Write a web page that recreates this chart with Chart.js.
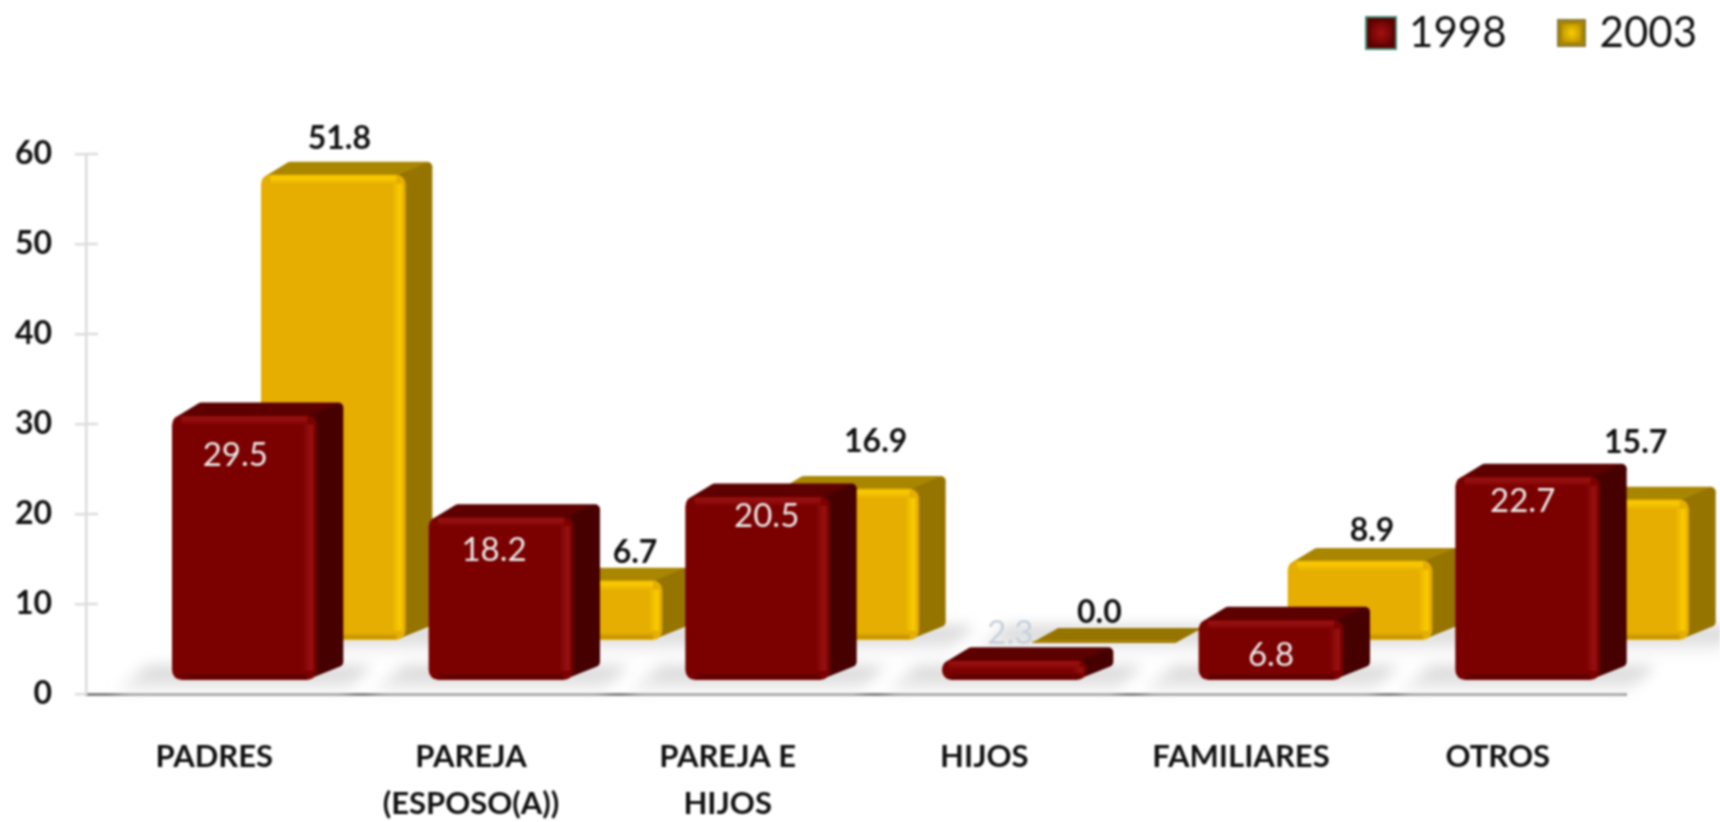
<!DOCTYPE html>
<html lang="es">
<head>
    <meta charset="UTF-8">
    <title>1998 - 2003</title>
    <style>
        html, body { margin: 0; background: white; }
        canvas { display: block; filter: blur(0.8px); }
    </style>
    <script src="https://cdn.jsdelivr.net/npm/chart.js@4"></script>
</head>
<body>
    <canvas id="chart" width="1720" height="822"></canvas>
    <script>
        const categories = ['PADRES', ['PAREJA', '(ESPOSO(A))'], ['PAREJA E', 'HIJOS'], 'HIJOS', 'FAMILIARES', 'OTROS'];
        const values1998 = [29.5, 18.2, 20.5, 2.3, 6.8, 22.7];
        const values2003 = [51.8, 6.7, 16.9, 0.0, 8.9, 15.7];
        const yTicks = [0, 10, 20, 30, 40, 50, 60];

        // look of each series: where its bars sit on the fake 3D floor
        const look = [
            { dx: 30, lift: 13, front: '#7b0000', side: '#470000', top: '#5c0000', edge: '#941010', low: '#5e0000', label: '#e9e9e9' },
            { dx: 119, lift: 53, front: '#e5ae00', side: '#967400', top: '#a98600', edge: '#f8c800', low: '#c79600', label: '#111111' }
        ];
        const depthX = 27, depthY = 13;

        // the labels in the picture were nudged by hand, one per bar
        const labelNudge = [
            [[-9, 40], [-7, 33], [9, 20], [-4, -27], [0, 36], [-5, 25]],
            [[6, -36], [45, -28], [29, -47], [-4, -28], [12, -30], [19, -57]]
        ];

        function marker(w, h, edge, mid, rim) {
            const c = document.createElement('canvas');
            c.width = w; c.height = h;
            const g = c.getContext('2d');
            g.fillStyle = edge;
            g.fillRect(0, 0, w, h);
            g.fillStyle = rim;
            g.fillRect(2, 2, w - 4, h - 4);
            const grad = g.createRadialGradient(w / 2, h / 2, 1, w / 2, h / 2, w / 2);
            grad.addColorStop(0, mid);
            grad.addColorStop(1, rim);
            g.fillStyle = grad;
            g.fillRect(5, 5, w - 10, h - 10);
            return c;
        }
        const markers = [
            marker(32, 34, '#3f8f75', '#a01010', '#5c0000'),
            marker(29, 28, '#8a7a3a', '#f6c800', '#a98600')
        ];

        function floorShadow(ctx, pts) {
            const grad = ctx.createLinearGradient(0, pts[1][1], 0, pts[0][1]);
            grad.addColorStop(0, '#cfcfcf');
            grad.addColorStop(1, '#f8f8f8');
            ctx.fillStyle = grad;
            ctx.beginPath();
            pts.forEach(p => ctx.lineTo(p[0], p[1]));
            ctx.closePath();
            ctx.fill();
        }

        function softStrip(ctx, x0, y0, x1, y1, color, rx, ry, rw, rh) {
            const grad = ctx.createLinearGradient(x0, y0, x1, y1);
            grad.addColorStop(0, color + '00');
            grad.addColorStop(0.7, color);
            grad.addColorStop(1, color);
            ctx.fillStyle = grad;
            ctx.fillRect(rx, ry, rw, rh);
        }

        const bars3d = {
            id: 'bars3d',
            afterLayout(chart) {
                // legend sits further right and higher than the layout puts it
                const legend = chart.legend;
                legend.top = -46;
                legend.right = 1755;
            },
            beforeDatasetsDraw(chart) {
                const ctx = chart.ctx;
                const axisY = chart.scales.y.getPixelForValue(0);
                ctx.save();
                ctx.filter = 'blur(7px)';
                [1, 0].forEach(i => {
                    chart.getDatasetMeta(i).data.forEach(el => {
                        const L = el.x - el.width / 2 + look[i].dx;
                        const R = L + el.width;
                        const b = axisY - look[i].lift + 12;
                        floorShadow(ctx, [[L - 60, b], [L - 25, b - 27], [R + 55, b - 27], [R + 28, b]]);
                    });
                });
                ctx.restore();
            },
            beforeDatasetDraw(chart, args) {
                const ctx = chart.ctx;
                const st = look[args.index];
                ctx.save();
                ctx.translate(st.dx, -st.lift);
                ctx.lineJoin = 'round';
                ctx.lineWidth = 10;
                args.meta.data.forEach(el => {
                    const L = el.x - el.width / 2, R = el.x + el.width / 2;
                    const T = el.y, B = el.base;
                    if (B - T > 1) {
                        ctx.fillStyle = ctx.strokeStyle = st.top;
                        ctx.beginPath();
                        ctx.moveTo(L + 6, T + 6);
                        ctx.lineTo(L + depthX + 2, T - depthY + 5);
                        ctx.lineTo(R + depthX - 5, T - depthY + 5);
                        ctx.lineTo(R - 6, T + 6);
                        ctx.closePath();
                        ctx.fill();
                        ctx.stroke();
                        ctx.fillStyle = ctx.strokeStyle = st.side;
                        ctx.beginPath();
                        ctx.moveTo(R - 8, T + 6);
                        ctx.lineTo(R + depthX - 5, T - depthY + 6);
                        ctx.lineTo(R + depthX - 5, Math.max(B - depthY - 5, T - depthY + 6));
                        ctx.lineTo(R - 8, B - 6);
                        ctx.closePath();
                        ctx.fill();
                        ctx.stroke();
                    } else {
                        // a zero bar is only its flat floor
                        ctx.fillStyle = st.side;
                        ctx.beginPath();
                        ctx.moveTo(L, T + 2);
                        ctx.lineTo(L + depthX, T - depthY);
                        ctx.lineTo(R + depthX, T - depthY);
                        ctx.lineTo(R, T + 2);
                        ctx.closePath();
                        ctx.fill();
                    }
                });
            },
            afterDatasetDraw(chart, args) {
                const ctx = chart.ctx;
                const st = look[args.index];
                // bevel along the front face
                args.meta.data.forEach(el => {
                    const L = el.x - el.width / 2, R = el.x + el.width / 2;
                    const T = el.y, B = el.base;
                    if (B - T < 2) return;
                    const inset = Math.min(9, (B - T) / 3);
                    softStrip(ctx, R - 14, 0, R - 3, 0, st.edge, R - 14, T + inset, 11, B - T - 2 * inset);
                    softStrip(ctx, 0, T + 10, 0, T + 1, st.edge, L + inset, T + 1, el.width - 2 * inset, 9);
                    softStrip(ctx, 0, B - 7, 0, B - 1, st.low, L + inset, B - 7, el.width - 2 * inset, 6);
                });
                ctx.restore();
            },
            afterDatasetsDraw(chart) {
                const ctx = chart.ctx;
                ctx.save();
                ctx.textAlign = 'center';
                ctx.textBaseline = 'middle';
                [1, 0].forEach(i => {
                    const st = look[i];
                    chart.getDatasetMeta(i).data.forEach((el, j) => {
                        const n = labelNudge[i][j];
                        const v = chart.data.datasets[i].data[j];
                        // the 1998 label of HIJOS is nearly lost on the white
                        ctx.fillStyle = (i === 0 && j === 3) ? '#c5d0dc' : st.label;
                        ctx.font = (i === 0 ? '400 33px' : '700 32px') + ' Lato';
                        ctx.fillText(v.toFixed(1), el.x + st.dx + n[0], el.y - st.lift + n[1]);
                    });
                });
                ctx.restore();
            },
            afterDraw(chart) {
                // y tick marks cross the axis
                const ctx = chart.ctx, y = chart.scales.y;
                ctx.save();
                ctx.strokeStyle = '#dcdcdc';
                ctx.lineWidth = 2.5;
                y.ticks.forEach((t, i) => {
                    if (t.value === 0) return;
                    const p = y.getPixelForTick(i);
                    ctx.beginPath();
                    ctx.moveTo(y.right, p);
                    ctx.lineTo(y.right + 12, p);
                    ctx.stroke();
                });
                ctx.restore();
            }
        };

        new Chart(document.getElementById('chart'), {
            type: 'bar',
            data: {
                labels: categories,
                datasets: [
                    { label: '1998', data: values1998, backgroundColor: look[0].front, clip: false },
                    { label: '2003', data: values2003, backgroundColor: look[1].front, clip: false }
                ]
            },
            plugins: [bars3d],
            options: {
                responsive: false,
                animation: false,
                layout: { padding: { right: 94, top: 44 }, autoPadding: false },
                elements: { bar: { borderRadius: 10, borderSkipped: false } },
                datasets: { bar: { grouped: false, barThickness: 144 } },
                plugins: {
                    tooltip: { enabled: false },
                    legend: {
                        position: 'top',
                        align: 'end',
                        labels: {
                            usePointStyle: true,
                            boxWidth: 14,
                            padding: 58,
                            color: '#111111',
                            font: { family: 'Lato', size: 42 },
                            generateLabels: chart => chart.data.datasets.map((d, i) => ({
                                text: d.label,
                                pointStyle: markers[i],
                                datasetIndex: i,
                                lineWidth: 0,
                                fontColor: '#111111'
                            }))
                        }
                    }
                },
                scales: {
                    x: {
                        afterFit: s => { s.height = 128; },
                        grid: { display: false, drawTicks: false },
                        border: { color: '#808080', width: 3 },
                        ticks: {
                            color: '#111111',
                            padding: 40,
                            maxRotation: 0,
                            font: { family: 'Lato', size: 31, weight: '700', lineHeight: 1.5 }
                        }
                    },
                    y: {
                        min: 0,
                        max: 60,
                        afterFit: s => { s.width = 86; },
                        afterBuildTicks: s => { s.ticks = yTicks.map(v => ({ value: v })); },
                        grid: { drawOnChartArea: false, color: '#dcdcdc', lineWidth: 2.5, tickLength: 11 },
                        border: { color: '#dcdcdc', width: 2.5 },
                        ticks: {
                            color: '#111111',
                            padding: 23,
                            font: { family: 'Lato', size: 32, weight: '700' }
                        }
                    }
                }
            }
        });
    </script>
</body>
</html>
